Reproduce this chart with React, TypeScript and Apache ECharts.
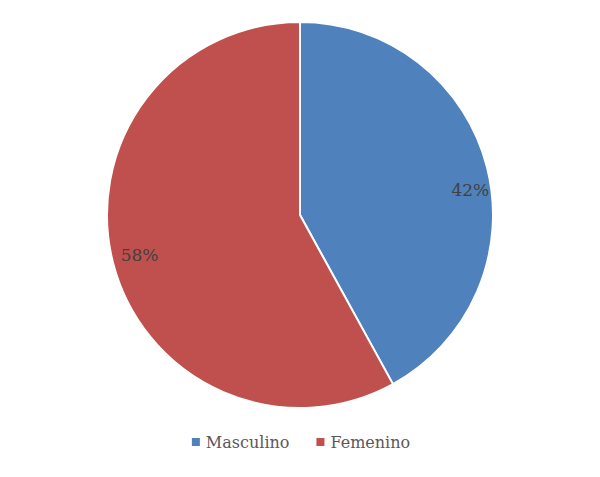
import React, { useEffect, useRef } from "react";
import * as echarts from "echarts";

const categories = ["Masculino", "Femenino"];
const values = [42, 58];
const colors = ["#4F81BD", "#C0504D"];
const labelShift = [
  [74, 0],
  [-64, 15],
];

export default function App() {
  const ref = useRef<HTMLDivElement>(null);
  useEffect(() => {
    if (!ref.current) return;
    const chart = echarts.init(ref.current, null, { renderer: "svg" });
    chart.setOption({
      animation: false,
      backgroundColor: "#ffffff",
      color: colors,
      legend: {
        bottom: 22,
        left: "center",
        icon: "rect",
        itemWidth: 10,
        itemHeight: 10,
        itemGap: 25,
        textStyle: { fontFamily: "DejaVu Serif", fontSize: 16, color: "#595959" },
        data: categories,
      },
      series: [
        {
          type: "pie",
          center: [300, 215],
          radius: [0, 193],
          startAngle: 90,
          clockwise: true,
          itemStyle: { borderColor: "#ffffff", borderWidth: 2 },
          label: {
            show: true,
            position: "inside",
            formatter: "{c}%",
            fontFamily: "DejaVu Serif",
            fontSize: 17,
            color: "#404040",
          },
          labelLayout: (p: any) => ({ dx: labelShift[p.dataIndex][0], dy: labelShift[p.dataIndex][1] }),
          emphasis: { disabled: true },
          data: categories.map((name, i) => ({ name, value: values[i] })),
        },
      ],
    });
    return () => chart.dispose();
  }, []);
  return (
    <div
      ref={ref}
      style={{ position: "fixed", left: 0, top: 0, width: 600, height: 477 }}
    />
  );
}
